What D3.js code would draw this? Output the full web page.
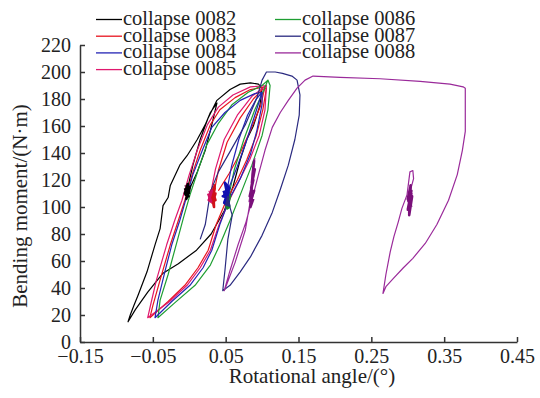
<!DOCTYPE html>
<html><head><meta charset="utf-8">
<script src="https://cdn.jsdelivr.net/npm/d3@7"></script>
<style>
body{margin:0;background:#fff;}
text{font-family:"Liberation Serif","Times New Roman",serif;fill:#222;}
</style></head>
<body><svg id="c" width="540" height="398"></svg>
<script>
const seriesNames = ["collapse 0082","collapse 0083","collapse 0084","collapse 0085","collapse 0086","collapse 0087","collapse 0088"];
const seriesColors = ["#000000","#e8141e","#2424b4","#e0186e","#1e9e32","#2a2a80","#9a2a9a"];
const clusterColors = ["#000000","#d0101a","#1010b0","#d01060","#1a8a2a","#2a2a80","#7a107a"];
const xTicks = [-0.15,-0.05,0.05,0.15,0.25,0.35,0.45];
const yTicks = [0,20,40,60,80,100,120,140,160,180,200,220];

const s0082 = [[-0.006,116],[0.001,110],[-0.004,111],[0.002,116],[-0.002,107],[-0.003,112],
 [0.005,131],[0.015,150],[0.026,166],[0.038,179],[0.056,187],[0.070,191],[0.084,192],[0.095,191],[0.100,188],
 [0.097,175],[0.088,160],[0.079,150],[0.070,135],[0.060,115],[0.048,97],[0.030,80],[0.010,68],[-0.015,58],[-0.036,51],[-0.057,37],[-0.074,24],[-0.084,15],
 [-0.081,20],[-0.076,27],[-0.070,35],[-0.058,52],[-0.047,72],[-0.040,84],[-0.036,101],[-0.029,107],[-0.026,116],[-0.013,131],[-0.003,138],[0.011,150],[0.022,161],[0.029,170],[0.038,177],
 [0.031,161],[0.022,142],[0.011,126],[0.001,114],[-0.003,110]];

const s0083 = [[0.030,112],[0.036,106],[0.031,104],[0.036,114],[0.033,108],
 [0.040,127],[0.052,148],[0.070,166],[0.088,180],[0.100,187],[0.106,188],
 [0.101,172],[0.092,153],[0.079,135],[0.066,120],[0.051,105],[0.037,87],[0.026,68],[0.012,55],[-0.006,42],[-0.029,30],[-0.054,18],
 [-0.050,27],[-0.040,46],[-0.026,72],[-0.015,90],[-0.006,105],[0.004,124],[0.015,142],[0.029,161],[0.042,172],[0.063,181],[0.084,187],[0.104,189],
 [0.098,175],[0.085,158],[0.070,140],[0.055,125],[0.040,112]];

const s0084 = [[0.049,112],[0.054,106],[0.048,104],[0.055,113],[0.050,108],[0.053,116],[0.047,109],[0.052,104],[0.051,110],
 [0.058,130],[0.068,150],[0.080,168],[0.092,180],[0.100,185],
 [0.100,176],[0.093,157],[0.084,139],[0.070,121],[0.056,107],[0.042,87],[0.031,68],[0.019,55],[0.001,42],[-0.024,30],[-0.047,18],
 [-0.043,31],[-0.033,53],[-0.024,72],[-0.013,90],[-0.004,107],[0.005,124],[0.018,142],[0.031,159],[0.049,170],[0.070,179],[0.090,184],[0.100,185],
 [0.090,168],[0.078,148],[0.066,130],[0.055,115]];

const s0085 = [[0.027,112],[0.031,106],[0.026,105],[0.030,113],[0.029,109],
 [0.036,128],[0.048,150],[0.066,168],[0.086,182],[0.106,190],
 [0.104,172],[0.096,153],[0.083,135],[0.069,120],[0.055,105],[0.041,87],[0.029,68],[0.015,55],[-0.003,42],[-0.027,30],[-0.057,18],
 [-0.052,30],[-0.045,46],[-0.031,72],[-0.020,90],[-0.010,105],[0.000,124],[0.011,142],[0.025,161],[0.040,174],[0.060,183],[0.084,189],[0.106,190]];

const s0086 = [[0.051,108],[0.055,102],[0.050,100],[0.056,110],[0.053,105],
 [0.062,128],[0.075,150],[0.090,172],[0.102,186],[0.108,194],[0.111,190],
 [0.108,172],[0.100,153],[0.086,131],[0.070,109],[0.056,90],[0.042,72],[0.029,57],[0.008,42],[-0.020,29],[-0.043,18],
 [-0.040,31],[-0.029,50],[-0.018,72],[-0.008,92],[0.001,109],[0.012,127],[0.024,146],[0.040,162],[0.059,176],[0.081,185],[0.100,190],[0.108,194]];

const s0087 = [[0.015,76],[0.022,87],[0.029,111],[0.040,126],[0.056,141],[0.077,161],[0.093,181],[0.100,194],[0.106,200],
 [0.118,200],[0.128,199],[0.141,197],[0.148,194],[0.152,183],[0.151,168],[0.145,150],[0.136,131],[0.125,113],[0.114,96],[0.100,79],[0.084,63],[0.070,52],[0.056,42],[0.046,38],
 [0.049,53],[0.053,76],[0.059,94],[0.053,105]];

const s0088 = [[0.084,107],[0.088,112],[0.082,104],[0.087,118],[0.085,110],[0.089,125],[0.086,120],[0.090,136],[0.087,128],[0.085,108],
 [0.077,83],[0.063,59],[0.051,42],[0.048,38],[0.056,53],[0.067,72],[0.078,89],[0.086,105],
 [0.095,124],[0.104,142],[0.114,159],[0.125,170],[0.136,179],[0.148,188],[0.159,194],[0.170,197],[0.207,196],[0.262,195],[0.317,193],[0.358,191],[0.376,189],
 [0.379,188],[0.379,172],[0.379,156],[0.375,142],[0.368,124],[0.356,105],[0.340,87],[0.324,73],[0.307,62],[0.294,55],[0.280,47],[0.270,41],[0.266,36],
 [0.270,50],[0.276,67],[0.281,78],[0.287,89],[0.292,99],[0.299,109],[0.303,126],[0.307,127],[0.308,121],
 [0.303,111],[0.301,108],[0.305,112],[0.300,104],[0.306,110],[0.302,100],[0.304,115],[0.301,96],[0.303,106]];

// dense noisy clusters (constant-load segments) per series
const c0082 = [[-0.006,114],[-0.001,108],[-0.005,109],[0.001,115],[-0.004,106],[0.000,112],[-0.006,110],[-0.002,117],[-0.003,107]];
const c0083 = [[0.031,113],[0.036,105],[0.030,106],[0.035,116],[0.032,103],[0.036,110],[0.030,110],[0.034,100],[0.033,114]];
const c0084 = [[0.047,112],[0.054,104],[0.048,103],[0.055,114],[0.049,118],[0.053,107],[0.046,108],[0.054,111],[0.050,102],[0.052,117]];
const c0085 = [[0.026,110],[0.030,104],[0.027,105],[0.031,112],[0.028,108]];
const c0086 = [[0.051,106],[0.055,100],[0.052,99],[0.056,108],[0.053,103]];
const c0087 = [[0.052,106],[0.055,101],[0.051,102],[0.054,108]];
const c0088 = [[0.084,104],[0.089,112],[0.083,108],[0.088,120],[0.085,114],[0.090,128],[0.086,118],[0.089,134],[0.087,124],[0.084,100],[0.088,106],
 [0.301,104],[0.305,112],[0.300,98],[0.306,108],[0.302,94],[0.304,116],[0.300,106],[0.305,100]];

const seriesData = [s0082,s0083,s0084,s0085,s0086,s0087,s0088];
const clusterData = [c0082,c0083,c0084,c0085,c0086,c0087,c0088];

const svg = d3.select("#c");
const x = d3.scaleLinear().domain([-0.15,0.45]).range([80,517]);
const y = d3.scaleLinear().domain([0,220]).range([342,45]);

const line = d3.line().x(d=>x(d[0])).y(d=>y(d[1]));
const drawOrder = [0,1,3,4,2,5,6];
drawOrder.forEach(i=>{
  svg.append("path").attr("d",line(seriesData[i])).attr("fill","none")
    .attr("stroke",seriesColors[i]).attr("stroke-width",1.2).attr("stroke-linejoin","round");
});
drawOrder.forEach(i=>{
  const c = clusterData[i];
  if (i===6) {
    svg.append("path").attr("d",line(c.slice(0,11))).attr("fill","none").attr("stroke",clusterColors[i]).attr("stroke-width",2.6).attr("stroke-linejoin","round");
    svg.append("path").attr("d",line(c.slice(11))).attr("fill","none").attr("stroke",clusterColors[i]).attr("stroke-width",2.6).attr("stroke-linejoin","round");
  } else {
    svg.append("path").attr("d",line(c)).attr("fill","none").attr("stroke",clusterColors[i]).attr("stroke-width",2.6).attr("stroke-linejoin","round");
  }
});

const xAxis = d3.axisBottom(x).tickValues(xTicks).tickSizeInner(-5).tickSizeOuter(0).tickPadding(7).tickFormat(d3.format(".2f"));
const gx = svg.append("g").attr("transform","translate(0,342)").call(xAxis);
const yAxis = d3.axisLeft(y).tickValues(yTicks).tickSizeInner(-5).tickSizeOuter(0).tickPadding(9);
const gy = svg.append("g").attr("transform","translate(80,0)").call(yAxis);
[gx,gy].forEach(g=>{
  g.selectAll("path,line").attr("stroke","#333").attr("stroke-width",1.5);
  g.selectAll("text").attr("font-size",20).attr("font-family","Liberation Serif").attr("fill","#222");
});

svg.append("text").attr("x",312).attr("y",383).attr("text-anchor","middle").attr("font-size",21).text("Rotational angle/(°)");
svg.append("text").attr("transform","translate(27,206) rotate(-90)").attr("text-anchor","middle").attr("font-size",21).text("Bending moment/(N·m)");

const legRows = [19.5,36.2,52.9,69.6];
seriesNames.forEach((n,i)=>{
  const col = i<4?0:1, row = i<4?i:i-4;
  const lx = col===0?96:275;
  const ly = legRows[row];
  svg.append("line").attr("x1",lx).attr("x2",lx+26).attr("y1",ly).attr("y2",ly)
    .attr("stroke",seriesColors[i]).attr("stroke-width",1.3);
  svg.append("text").attr("x",lx+27).attr("y",ly+5.5).attr("font-size",20.5).text(n);
});
</script></body></html>
